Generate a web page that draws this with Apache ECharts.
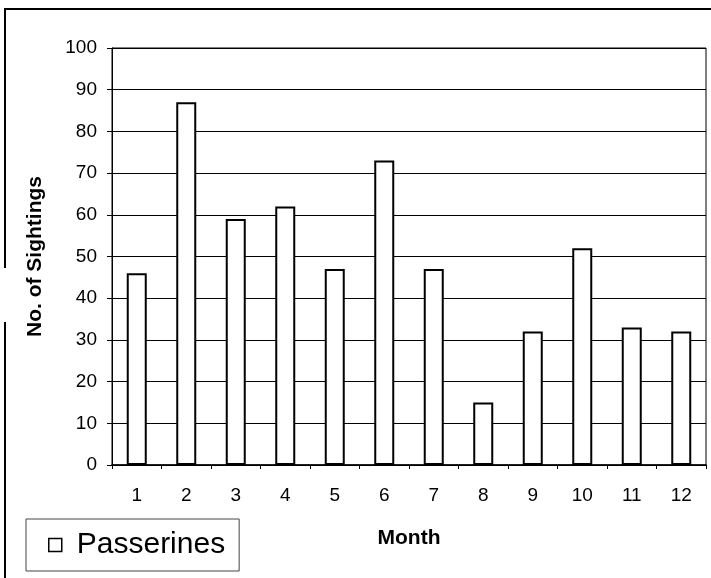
<!DOCTYPE html>
<html>
<head>
<meta charset="utf-8">
<script src="https://cdn.jsdelivr.net/npm/echarts@6/dist/echarts.min.js"></script>
<style>html,body{margin:0;padding:0;background:#fff}#c{width:711px;height:578px}</style>
</head>
<body>
<div id="c"></div>
<script>
const months = ['1','2','3','4','5','6','7','8','9','10','11','12'];
const passerines = [46, 87, 59, 62, 47, 73, 47, 15, 32, 52, 33, 32];
const seriesName = 'Passerines';
const xTitle = 'Month';
const yTitle = 'No. of Sightings';

const chart = echarts.init(document.getElementById('c'));
const font = '"Liberation Sans", Arial, sans-serif';
chart.setOption({
  animation: false,
  backgroundColor: '#fff',
  textStyle: { fontFamily: font },
  grid: { left: 112, top: 48, right: 5, bottom: 113, show: true, borderColor: '#000', borderWidth: 1, backgroundColor: 'transparent' },
  legend: {
    left: 26, top: 519, orient: 'horizontal',
    padding: [11, 14, 11, 22],
    borderColor: '#444', borderWidth: 1,
    icon: 'rect', itemWidth: 13, itemHeight: 13,
    textStyle: { fontSize: 30, color: '#000', fontFamily: font, padding: [0, 0, 0, 10] },
    itemStyle: { color: '#fff', borderColor: '#000', borderWidth: 1.5 },
    data: [seriesName]
  },
  xAxis: {
    type: 'category', data: months,
    name: xTitle, nameLocation: 'middle', nameGap: 63,
    nameTextStyle: { fontSize: 21, fontWeight: 'bold', color: '#000', fontFamily: font },
    axisLine: { lineStyle: { color: '#000', width: 1.5 } },
    axisTick: { show: true, length: 4, inside: false, lineStyle: { color: '#000' } },
    axisLabel: { fontSize: 19, color: '#000', margin: 21, fontFamily: font }
  },
  yAxis: {
    type: 'value', min: 0, max: 100, interval: 10,
    name: yTitle, nameLocation: 'middle', nameGap: 66, nameRotate: 90,
    nameTextStyle: { fontSize: 21, fontWeight: 'bold', color: '#000', fontFamily: font },
    axisLine: { show: true, lineStyle: { color: '#000', width: 1 } },
    axisTick: { show: true, length: 5, lineStyle: { color: '#000' } },
    axisLabel: { fontSize: 19, color: '#000', margin: 15, fontFamily: font },
    splitLine: { show: true, lineStyle: { color: '#000', width: 1 } }
  },
  series: [{
    name: seriesName, type: 'bar', data: passerines, barWidth: 20,
    itemStyle: { color: '#fff', borderColor: '#000', borderWidth: 2 }
  }],
  graphic: [
    { type: 'line', shape: { x1: 4, y1: 9, x2: 711, y2: 9 }, style: { stroke: '#000', lineWidth: 2 } },
    { type: 'line', shape: { x1: 5, y1: 9, x2: 5, y2: 268 }, style: { stroke: '#000', lineWidth: 2 } },
    { type: 'line', shape: { x1: 5, y1: 322, x2: 5, y2: 578 }, style: { stroke: '#000', lineWidth: 2 } }
  ]
});
</script>
</body>
</html>
